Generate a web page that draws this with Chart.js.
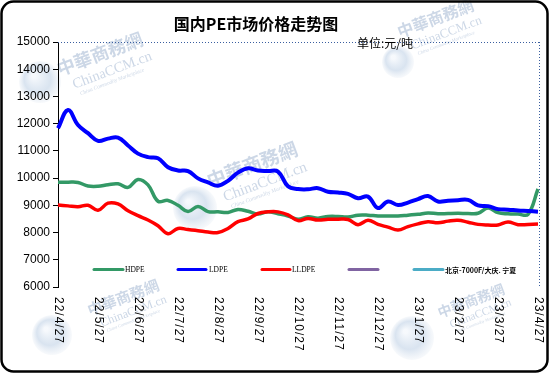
<!DOCTYPE html>
<html><head><meta charset="utf-8">
<script src="https://cdn.jsdelivr.net/npm/chart.js@4"></script>
<style>html,body{margin:0;padding:0;background:#fff;}#wrap{width:550px;height:374px;position:relative}</style>
</head><body><div id="wrap"><canvas id="c" width="550" height="374" style="width:550px;height:374px"></canvas></div>
<script>
const categories = [
 '22/4/27','22/5/4','22/5/11','22/5/18',
 '22/5/27','22/6/3','22/6/10','22/6/17',
 '22/6/27','22/7/4','22/7/11','22/7/18',
 '22/7/27','22/8/3','22/8/10','22/8/17',
 '22/8/27','22/9/3','22/9/10','22/9/17',
 '22/9/27','22/10/4','22/10/11','22/10/18',
 '22/10/27','22/11/3','22/11/10','22/11/17',
 '22/11/27','22/12/4','22/12/11','22/12/18',
 '22/12/27','23/1/3','23/1/10','23/1/17',
 '23/1/27','23/2/3','23/2/10','23/2/17',
 '23/2/27','23/3/6','23/3/13','23/3/20',
 '23/3/27','23/4/3','23/4/10','23/4/17',
 '23/4/27'];
const tickLabels = ['22/4/27','22/5/27','22/6/27','22/7/27','22/8/27','22/9/27','22/10/27','22/11/27','22/12/27','23/1/27','23/2/27','23/3/27','23/4/27'];
const hdpe = [9846,9850,9840,9710,9700,9760,9790,9660,9950,9750,9150,9180,
  9000,8770,8960,8770,8760,8740,8850,8780,8680,8760,8690,8610,
  8490,8580,8530,8590,8590,8570,8640,8640,8610,8610,8610,8640,
  8670,8720,8690,8700,8707,8700,8707,8900,8730,8690,8680,8670,9600];
const ldpe = [11830,12500,11950,11650,11370,11450,11490,11200,10900,10770,10730,10400,
  10280,10260,9990,9840,9720,9900,10200,10360,10280,10260,10240,9700,
  9600,9590,9630,9500,9470,9420,9260,9320,8900,9140,9010,9100,
  9230,9340,9140,9170,9190,9200,9000,8970,8860,8840,8810,8790,8766];
const lldpe = [9012,8980,8950,9000,8820,9080,9050,8800,8620,8460,8250,7960,
  8150,8110,8070,8020,8000,8150,8400,8500,8700,8760,8760,8650,
  8440,8520,8460,8490,8490,8480,8290,8450,8300,8200,8094,8220,
  8320,8400,8360,8420,8450,8380,8300,8278,8278,8390,8290,8300,8314];
const seriesNames = ['HDPE','LDPE','LLDPE','','北京-7000F/大庆. 宁夏'];
const chartTitle = '国内PE市场价格走势图';
const unitLabel = '单位:元/吨';
const yMin = 6000, yMax = 15000, yStep = 1000;

const colors = ['#339966','#0000FF','#FF0000','#8064A2','#4BACC6'];

function drawMark(ctx, x, y, s, gx, gy, gr) {
  ctx.save();
  const g = ctx.createRadialGradient(gx-gr*0.3, gy-gr*0.3, 2, gx, gy, gr);
  g.addColorStop(0, 'rgba(230,238,248,0.35)');
  g.addColorStop(0.6, 'rgba(130,165,205,0.3)');
  g.addColorStop(1, 'rgba(160,185,215,0.08)');
  ctx.fillStyle = g;
  ctx.beginPath(); ctx.arc(gx, gy, gr, 0, Math.PI*2); ctx.fill();
  ctx.translate(x, y); ctx.rotate(-0.36); ctx.scale(s, s);
  ctx.fillStyle = 'rgba(120,150,190,0.38)';
  ctx.font = 'bold 20px "Noto Sans CJK TC"';
  ctx.textBaseline = 'alphabetic';
  ctx.fillText('中華商務網', 0, 0);
  ctx.font = '16px "Liberation Serif"';
  ctx.fillText('ChinaCCM.cn', 10, 19);
  ctx.font = 'italic 6px "Liberation Serif"';
  ctx.fillText('China Commodity Marketplace', 14, 28);
  ctx.restore();
}

const decor = {
  id: 'decor',
  beforeDraw(chart) {
    const ctx = chart.ctx;
    ctx.save();
    ctx.fillStyle = '#fff';
    ctx.fillRect(0, 0, chart.width, chart.height);
    drawMark(ctx, 60, 76, 0.9, 40, 82, 21);
    drawMark(ctx, 210, 188, 0.95, 195, 208, 22);
    drawMark(ctx, 400, 38, 0.8, 398, 62, 16);
    drawMark(ctx, 90, 316, 0.75, 52, 335, 20);
    drawMark(ctx, 440, 318, 0.7, 412, 338, 22);
    ctx.restore();
  },
  afterDraw(chart) {
    const ctx = chart.ctx;
    const a = chart.chartArea;
    ctx.save();
    ctx.strokeStyle = '#3A5FA0';
    ctx.lineWidth = 1;
    ctx.setLineDash([1, 2]);
    ctx.beginPath();
    ctx.moveTo(a.left, a.top + 0.5); ctx.lineTo(a.right + 1.5, a.top + 0.5);
    ctx.moveTo(a.right + 1.5, a.top); ctx.lineTo(a.right + 1.5, a.bottom);
    ctx.stroke();
    ctx.setLineDash([]);
    ctx.fillStyle = '#000';
    ctx.textAlign = 'center'; ctx.textBaseline = 'middle';
    ctx.font = 'bold 16px "Noto Sans CJK SC"';
    ctx.fillText(chartTitle, 256, 24);
    ctx.textAlign = 'left';
    ctx.font = '12px "Noto Sans CJK SC"';
    ctx.fillText(unitLabel, 357, 43);
    const xs = chart.scales.x;
    ctx.font = '12px "Liberation Sans"';
    try { ctx.letterSpacing = '1px'; } catch(e) {}
    tickLabels.forEach(lbl => {
      const idx = categories.indexOf(lbl);
      const px = xs.getPixelForValue(idx);
      ctx.save();
      ctx.translate(px, a.bottom + 10);
      ctx.rotate(Math.PI / 2);
      ctx.textAlign = 'left'; ctx.textBaseline = 'middle';
      ctx.fillText(lbl, 0, 0);
      ctx.restore();
    });
    try { ctx.letterSpacing = '0px'; } catch(e) {}
    const items = [[94,123,125],[178,206,209],[262,290,292],[349,378,0],[414,443,445]];
    const ly = 269.5;
    chart.data.datasets.forEach((ds, i) => {
      const it = items[i];
      ctx.strokeStyle = ds.borderColor;
      ctx.lineWidth = 3;
      ctx.lineCap = 'round';
      ctx.beginPath(); ctx.moveTo(it[0], ly); ctx.lineTo(it[1], ly); ctx.stroke();
      if (ds.label) {
        ctx.fillStyle = '#000';
        ctx.textBaseline = 'middle'; ctx.textAlign = 'left';
        ctx.font = i === 4 ? 'bold 7px "Noto Sans CJK SC"' : '7.5px "Liberation Serif"';
        ctx.fillText(ds.label, it[2], ly + 0.5);
      }
    });
    ctx.strokeStyle = '#000';
    ctx.lineWidth = 2.5;
    ctx.beginPath();
    ctx.roundRect(1.5, 1.5, 546, 370, 12);
    ctx.stroke();
    ctx.restore();
  }
};

const mk = (label, data, color, w, order) => ({
  label, data, borderColor: color, backgroundColor: color, borderWidth: w,
  pointRadius: 0, tension: 0.4, fill: false, order
});

new Chart(document.getElementById('c'), {
  type: 'line',
  data: {
    labels: categories,
    datasets: [
      mk(seriesNames[0], hdpe, colors[0], 3.5, 3),
      mk(seriesNames[1], ldpe, colors[1], 4, 2),
      mk(seriesNames[2], lldpe, colors[2], 3.5, 1),
      mk(seriesNames[3], [], colors[3], 3, 4),
      mk(seriesNames[4], [], colors[4], 3, 5)
    ]
  },
  options: {
    responsive: false, animation: false, devicePixelRatio: 1,
    layout: { padding: { left: 0, top: 42, right: 12, bottom: 0 } },
    plugins: { legend: { display: false }, tooltip: { enabled: false }, title: { display: false } },
    scales: {
      x: {
        type: 'category', offset: false,
        grid: { display: false }, border: { display: false },
        ticks: { display: false },
        afterFit: s => { s.height = 87; }
      },
      y: {
        min: yMin, max: yMax,
        ticks: { stepSize: yStep, color: '#000', font: { family: 'Liberation Sans', size: 12 }, padding: 3,
                 callback: v => String(v) },
        grid: { drawOnChartArea: false, drawTicks: true, tickLength: 5, color: '#000' },
        border: { display: true, color: '#000', width: 1 },
        afterFit: s => { s.width = 58; }
      }
    }
  },
  plugins: [decor]
});
</script>
</body></html>
